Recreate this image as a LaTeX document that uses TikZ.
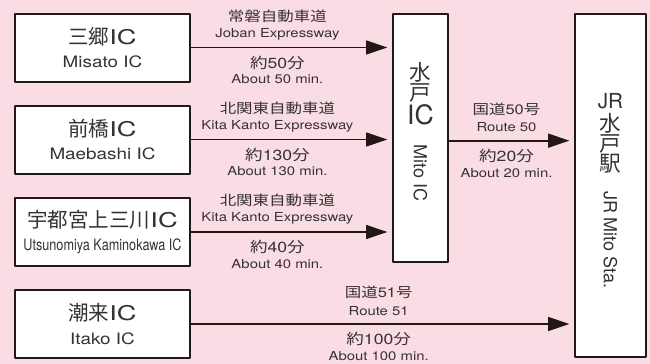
\documentclass[tikz,border=0pt]{standalone}
\usepackage{fontspec}
\setmainfont{TeX Gyre Heros}[FakeStretch=1.2]
\newfontfamily\jp{Noto Sans CJK JP}[FakeStretch=1.2]
\newfontfamily\jpv{Noto Sans CJK JP}
\newfontfamily\sfv{TeX Gyre Heros}
\newfontfamily\widesf{TeX Gyre Heros}[FakeStretch=1.35]
\usetikzlibrary{arrows.meta}
\definecolor{bgpink}{RGB}{250,221,228}
\definecolor{ink}{RGB}{35,24,21}
\definecolor{txt}{RGB}{55,50,50}
\newcommand\ja[1]{{\jp #1}}
\newcommand\icname[1]{{\jpv\fontsize{15.4}{17}\selectfont #1}{\widesf\fontsize{15.2}{17}\selectfont IC}}
\newcommand\ensub[1]{{\fontsize{11.8}{17}\selectfont #1}}
\begin{document}
\begin{tikzpicture}[x=.75pt, y=-.75pt, line join=round,
	box/.style={draw=ink, line width=1.5pt, fill=white, text=txt, inner sep=0pt, align=center},
	icbox/.style={box, minimum width=131.25pt, minimum height=51pt, font=\fontsize{12.5}{17.5}\selectfont},
	road/.style={draw=ink, line width=1.3pt, -{Triangle[length=16pt,width=10.5pt]}, shorten >=3.5pt},
	jlab/.style={text=txt, font=\fontsize{10.3}{11}\selectfont},
	tlab/.style={text=txt, font=\fontsize{11}{12}\selectfont},
	elab/.style={text=txt, font=\fontsize{9.3}{10}\selectfont},
	vtext/.style={text=txt, inner sep=0pt, align=center, anchor=north, font=\jpv\fontsize{16.2}{15}\selectfont}]
	\fill[bgpink] (0,0) rectangle (650,364);
	\useasboundingbox (0,0) rectangle (650,364);
	%IC ben trai
	\node[icbox] (misato) at (102.5,47.5) {\icname{三郷}\\\ensub{Misato IC}};
	\node[icbox] (maebashi) at (102.5,139.5) {\icname{前橋}\\\ensub{Maebashi IC}};
	\node[icbox] (utsunomiya) at (102.5,232) {\icname{宇都宮上三川}\\\ensub{\scalebox{.67}[1]{Utsunomiya Kaminokawa IC}}};
	\node[icbox] (itako) at (102.5,324) {\icname{潮来}\\\ensub{Itako IC}};
	%Mito IC, JR Mito
	\node[box, minimum width=41.25pt, minimum height=186pt] (mito) at (420.5,138) {};
	\node[vtext] (mitotxt) at (420.5,62) {水\\戸\\[1pt]{\sfv\fontsize{20}{20}\selectfont IC}\\\rotatebox{-90}{\sfv\fontsize{13.5}{14}\selectfont Mito IC}};
	\node[box, minimum width=53.25pt, minimum height=257.25pt] (jrmito) at (610.5,185.5) {};
	\node[vtext] (jrtxt) at (610.5,93) {{\sfv\fontsize{15.5}{15}\selectfont JR}\\[2pt]水\\戸\\駅\\\rotatebox{-90}{\sfv\fontsize{13.5}{14}\selectfont JR Mito Sta.}};
	%duong
	\draw[road] (misato) -- (misato -| mito.west)
		node[pos=.43, yshift=23.5pt, jlab] (r1) {\ja{常磐自動車道}}
		node[pos=.43, yshift=10pt, elab] (r1en) {Joban Expressway}
		node[pos=.43, yshift=-11.5pt, tlab] (t1) {\ja{約}50\ja{分}}
		node[pos=.43, yshift=-24pt, elab] (t1en) {About 50 min.};
	\draw[road] (maebashi) -- (maebashi -| mito.west)
		node[pos=.43, yshift=23.5pt, jlab] (r2) {\ja{北関東自動車道}}
		node[pos=.43, yshift=10pt, elab] (r2en) {Kita Kanto Expressway}
		node[pos=.43, yshift=-11.5pt, tlab] (t2) {\ja{約}130\ja{分}}
		node[pos=.43, yshift=-24pt, elab] (t2en) {About 130 min.};
	\draw[road] (utsunomiya) -- (utsunomiya -| mito.west)
		node[pos=.43, yshift=23.5pt, jlab] (r3) {\ja{北関東自動車道}}
		node[pos=.43, yshift=10pt, elab] (r3en) {Kita Kanto Expressway}
		node[pos=.43, yshift=-11.5pt, tlab] (t3) {\ja{約}40\ja{分}}
		node[pos=.43, yshift=-24pt, elab] (t3en) {About 40 min.};
	\draw[road] (itako) -- (itako -| jrmito.west)
		node[pos=.49, yshift=23.5pt, jlab] (r4) {\ja{国道}51\ja{号}}
		node[pos=.49, yshift=10pt, elab] (r4en) {Route 51}
		node[pos=.49, yshift=-11.5pt, tlab] (t4) {\ja{約}100\ja{分}}
		node[pos=.49, yshift=-24pt, elab] (t4en) {About 100 min.};
	\draw[road] ([yshift=-2pt]mito.east) -- ([yshift=-2pt]mito.east -| jrmito.west)
		node[pos=.46, yshift=23.5pt, jlab] (r5) {\ja{国道}50\ja{号}}
		node[pos=.46, yshift=10pt, elab] (r5en) {Route 50}
		node[pos=.46, yshift=-11.5pt, tlab] (t5) {\ja{約}20\ja{分}}
		node[pos=.46, yshift=-24pt, elab] (t5en) {About 20 min.};
\end{tikzpicture}
\end{document}
